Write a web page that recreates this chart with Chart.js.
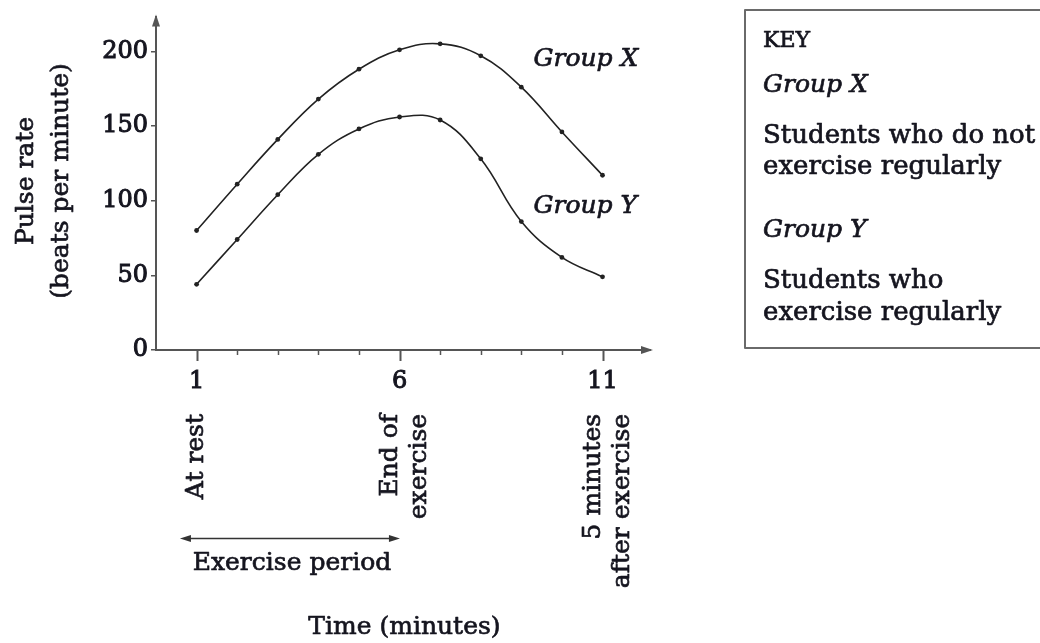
<!DOCTYPE html>
<html>
<head>
<meta charset="utf-8">
<script src="https://cdn.jsdelivr.net/npm/chart.js@4/dist/chart.umd.min.js"></script>
<style>
  html, body { margin: 0; padding: 0; background: #ffffff; }
  #wrap { position: relative; width: 1040px; height: 643px; }
  canvas { display: block; }
</style>
</head>
<body>
<div id="wrap"><canvas id="c" width="1040" height="643"></canvas></div>
<script>
// ---- data ----
const timeMinutes = [1, 2, 3, 4, 5, 6, 7, 8, 9, 10, 11];
const groupX = [80, 111, 141, 168, 188, 201, 205, 197, 176, 146, 117];
const groupY = [44, 74, 104, 131, 148, 156, 154, 128, 86, 62, 49];
const xTickLabels = [1, 6, 11];
const yTickLabels = [0, 50, 100, 150, 200];
const xMinorTicks = [1, 2, 3, 4, 5, 6, 7, 8, 9, 10, 11];
const xCategoryNotes = [
  { at: 1, lines: ['At rest'] },
  { at: 6, lines: ['End of', 'exercise'] },
  { at: 11, lines: ['5 minutes', 'after exercise'] }
];
const seriesNames = ['Group X', 'Group Y'];
const keyLines = [
  { text: 'KEY', kind: 'head' },
  { text: 'Group X', kind: 'name' },
  { text: 'Students who do not', kind: 'desc' },
  { text: 'exercise regularly', kind: 'desc' },
  { text: 'Group Y', kind: 'name' },
  { text: 'Students who', kind: 'desc' },
  { text: 'exercise regularly', kind: 'desc' }
];
const yTitleLines = ['Pulse rate', '(beats per minute)'];
const xTitle = 'Time (minutes)';
const periodLabel = 'Exercise period';

const SERIF = '"DejaVu Serif", "Liberation Serif", serif';
const INK = '#15151f';
const AXIS = '#555555';
const STROKE = 0.7;

function pts(vals) { return timeMinutes.map((t, i) => ({ x: t, y: vals[i] })); }

function txt(ctx, s, x, y) {
  ctx.fillText(s, x, y);
  ctx.strokeText(s, x, y);
}

const decor = {
  id: 'decor',
  afterDraw(chart) {
    const ctx = chart.ctx;
    const xs = chart.scales.x, ys = chart.scales.y;
    const area = chart.chartArea;
    const x0 = area.left, yb = area.bottom;
    ctx.save();

    // axis arrowheads
    ctx.fillStyle = AXIS;
    ctx.beginPath();
    ctx.moveTo(x0, area.top - 3);
    ctx.lineTo(x0 - 4, area.top + 9);
    ctx.lineTo(x0 + 4, area.top + 9);
    ctx.closePath(); ctx.fill();
    ctx.beginPath();
    ctx.moveTo(area.right + 3, yb);
    ctx.lineTo(area.right - 9, yb - 4);
    ctx.lineTo(area.right - 9, yb + 4);
    ctx.closePath(); ctx.fill();

    // x tick marks
    ctx.strokeStyle = AXIS;
    xMinorTicks.forEach(v => {
      const px = Math.round(xs.getPixelForValue(v)) + 0.5;
      const major = xTickLabels.includes(v);
      ctx.lineWidth = major ? 2 : 1.5;
      ctx.beginPath();
      ctx.moveTo(px, yb);
      ctx.lineTo(px, yb + (major ? 11 : 5));
      ctx.stroke();
    });

    // text style
    ctx.fillStyle = INK;
    ctx.strokeStyle = INK;
    ctx.lineWidth = STROKE;
    ctx.lineJoin = 'round';

    // series labels
    ctx.textAlign = 'left';
    ctx.textBaseline = 'alphabetic';
    ctx.font = 'italic 25px ' + SERIF;
    txt(ctx, seriesNames[0], xs.getPixelForValue(9.3), ys.getPixelForValue(190));
    txt(ctx, seriesNames[1], xs.getPixelForValue(9.3), ys.getPixelForValue(92));

    // rotated notes under ticks
    ctx.font = '25px ' + SERIF;
    xCategoryNotes.forEach(n => {
      const px = xs.getPixelForValue(n.at);
      const offs = n.lines.length === 1 ? [6] : [-3, 26];
      n.lines.forEach((ln, i) => {
        ctx.save();
        ctx.translate(px + offs[i], 414);
        ctx.rotate(-Math.PI / 2);
        ctx.textAlign = 'right';
        ctx.textBaseline = 'alphabetic';
        txt(ctx, ln, 0, 0);
        ctx.restore();
      });
    });

    // exercise period arrow
    const ax1 = xs.getPixelForValue(0.59), ax2 = xs.getPixelForValue(6.01), ay = 538.5;
    ctx.save();
    ctx.strokeStyle = '#333';
    ctx.fillStyle = '#333';
    ctx.lineWidth = 1.6;
    ctx.beginPath(); ctx.moveTo(ax1 + 6, ay); ctx.lineTo(ax2 - 6, ay); ctx.stroke();
    ctx.beginPath(); ctx.moveTo(ax1, ay); ctx.lineTo(ax1 + 11, ay - 3.5); ctx.lineTo(ax1 + 11, ay + 3.5); ctx.closePath(); ctx.fill();
    ctx.beginPath(); ctx.moveTo(ax2, ay); ctx.lineTo(ax2 - 11, ay - 3.5); ctx.lineTo(ax2 - 11, ay + 3.5); ctx.closePath(); ctx.fill();
    ctx.restore();

    ctx.font = '25px ' + SERIF;
    ctx.textAlign = 'center';
    txt(ctx, periodLabel, (ax1 + ax2) / 2 + 2, 570);
    txt(ctx, xTitle, xs.getPixelForValue(6.12), 634);

    // y title
    yTitleLines.forEach((ln, i) => {
      ctx.save();
      ctx.translate(i === 0 ? 33 : 68, 181);
      ctx.rotate(-Math.PI / 2);
      ctx.textAlign = 'center';
      ctx.textBaseline = 'alphabetic';
      txt(ctx, ln, 0, 0);
      ctx.restore();
    });

    // key box
    ctx.save();
    ctx.strokeStyle = '#6a6a6a';
    ctx.lineWidth = 2;
    ctx.strokeRect(745, 10, 320, 338);
    ctx.restore();
    const baselines = [47, 92, 143, 174, 237, 288, 320];
    keyLines.forEach((k, i) => {
      ctx.textAlign = 'left';
      if (k.kind === 'head') ctx.font = '22px ' + SERIF;
      else if (k.kind === 'name') ctx.font = 'italic 25px ' + SERIF;
      else ctx.font = '26px ' + SERIF;
      txt(ctx, k.text, 763, baselines[i]);
    });

    ctx.restore();
  }
};

new Chart(document.getElementById('c'), {
  type: 'line',
  data: {
    datasets: [
      { label: seriesNames[0], data: pts(groupX) },
      { label: seriesNames[1], data: pts(groupY) }
    ]
  },
  options: {
    responsive: false,
    animation: false,
    devicePixelRatio: 1,
    layout: { padding: { top: 13, right: 390, bottom: 0, left: 0 } },
    elements: {
      line: { borderColor: '#222', borderWidth: 1.6, tension: 0.4, fill: false },
      point: { radius: 2.4, backgroundColor: '#222', borderColor: '#222', borderWidth: 0 }
    },
    plugins: { legend: { display: false }, tooltip: { enabled: false } },
    scales: {
      x: {
        type: 'linear',
        min: 0, max: 12.17,
        afterBuildTicks(s) { s.ticks = xTickLabels.map(v => ({ value: v })); },
        afterFit(s) { s.height = 293; },
        grid: { display: false, drawTicks: false },
        border: { display: true, color: AXIS, width: 2 },
        ticks: { color: INK, textStrokeColor: INK, textStrokeWidth: 1, font: { family: SERIF, size: 24 }, padding: 17, maxRotation: 0, autoSkip: false }
      },
      y: {
        min: 0, max: 222.7,
        afterBuildTicks(s) { s.ticks = yTickLabels.map(v => ({ value: v })); },
        afterFit(s) { s.width = 156; },
        grid: { display: true, drawOnChartArea: false, tickLength: 5, color: AXIS, lineWidth: 1.5 },
        border: { display: true, color: AXIS, width: 2 },
        ticks: { color: INK, textStrokeColor: INK, textStrokeWidth: 1, font: { family: SERIF, size: 24 }, padding: 3, autoSkip: false }
      }
    }
  },
  plugins: [decor]
});
</script>
</body>
</html>
